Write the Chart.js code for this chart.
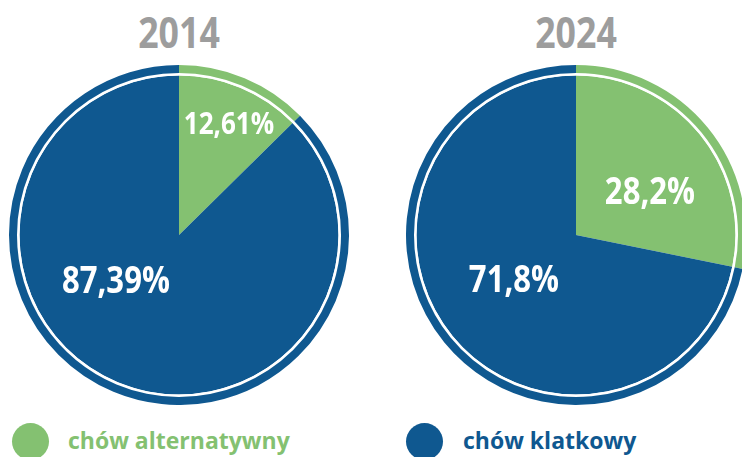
<!DOCTYPE html>
<html lang="pl">
<head>
<meta charset="utf-8">
<script src="https://cdn.jsdelivr.net/npm/chart.js@4/dist/chart.umd.min.js"></script>
<style>
    html, body { margin: 0; padding: 0; background: #fff; }
    body { width: 742px; height: 457px; overflow: hidden; position: relative; }
    .box { position: absolute; top: 65px; width: 340px; height: 340px; }
    .title {
        position: absolute; top: 10px; width: 340px; text-align: center;
        font-family: 'Open Sans', sans-serif; line-height: 1;
        font-weight: bold; font-size: 43px; color: #9d9d9d;
        transform: scaleX(0.83);
    }
    .legend-item { position: absolute; top: 423px; }
    .dot { position: absolute; top: 0; width: 37px; height: 37px; border-radius: 50%; }
    .legend-text {
        position: absolute; top: 5.5px; white-space: nowrap; line-height: 1;
        font-family: 'Open Sans', sans-serif;
        font-weight: bold; font-size: 23px;
    }
</style>
</head>
<body>
<div class="title" style="left:9px">2014</div>
<div class="title" style="left:406px">2024</div>
<div class="box" style="left:9px"><canvas id="pie2014"></canvas></div>
<div class="box" style="left:406px"><canvas id="pie2024"></canvas></div>
<div id="legend"></div>

<script>
// Dane
const kategorie = ['chów alternatywny', 'chów klatkowy'];
const wartosci2014 = [12.61, 87.39];
const wartosci2024 = [28.2, 71.8];
const etykiety2014 = ['12,61%', '87,39%'];
const etykiety2024 = ['28,2%', '71,8%'];
const kolory = ['#84c171', '#0f5890'];

// przesuniecia etykiet wzgledem srodka (w promieniach)
const pozycje2014 = [[0.294, -0.647], [-0.371, 0.282]];
const pozycje2024 = [[0.435, -0.247], [-0.365, 0.276]];

const etykietyPlugin = {
    id: 'etykiety',
    afterDraw(chart, args, opts) {
        const meta = chart.getDatasetMeta(0);
        const arc = meta.data[0];
        const { x, y, outerRadius } = arc.getProps(['x', 'y', 'outerRadius'], true);
        const ctx = chart.ctx;
        opts.teksty.forEach((t, i) => {
            ctx.save();
            ctx.fillStyle = '#fff';
            ctx.textAlign = 'center';
            ctx.textBaseline = 'middle';
            ctx.font = 'bold ' + opts.rozmiary[i] + 'px "Open Sans", sans-serif';
            ctx.translate(x + opts.pozycje[i][0] * outerRadius, y + opts.pozycje[i][1] * outerRadius);
            ctx.scale(0.84, 1);
            ctx.fillText(t, 0, 0);
            ctx.restore();
        });
    }
};

function createPie(canvas, wartosci, teksty, pozycje, rozmiary) {
    return new Chart(canvas, {
        type: 'pie',
        data: {
            labels: kategorie,
            datasets: [
                { data: wartosci, backgroundColor: kolory, borderWidth: 0, weight: 8 },
                { data: [1], backgroundColor: ['#ffffff'], borderWidth: 0, weight: 2.5 },
                { data: wartosci, backgroundColor: kolory, borderWidth: 0, weight: 159.5 }
            ]
        },
        options: {
            responsive: true,
            maintainAspectRatio: false,
            animation: false,
            layout: { padding: 0 },
            plugins: {
                legend: { display: false },
                tooltip: { enabled: false },
                etykiety: { teksty, pozycje, rozmiary }
            }
        },
        plugins: [etykietyPlugin]
    });
}

createPie(document.getElementById('pie2014'), wartosci2014, etykiety2014, pozycje2014, [31, 37]);
createPie(document.getElementById('pie2024'), wartosci2024, etykiety2024, pozycje2024, [37, 37]);

// legenda
const legendaX = [[12, 68], [406, 463]];
const legend = document.getElementById('legend');
kategorie.forEach((k, i) => {
    const item = document.createElement('div');
    item.className = 'legend-item';
    item.style.left = legendaX[i][0] + 'px';
    item.innerHTML = '<div class="dot" style="background:' + kolory[i] + '"></div>' +
        '<div class="legend-text" style="left:' + (legendaX[i][1] - legendaX[i][0]) + 'px;color:' + kolory[i] + '">' + k + '</div>';
    legend.appendChild(item);
});
</script>
</body>
</html>
